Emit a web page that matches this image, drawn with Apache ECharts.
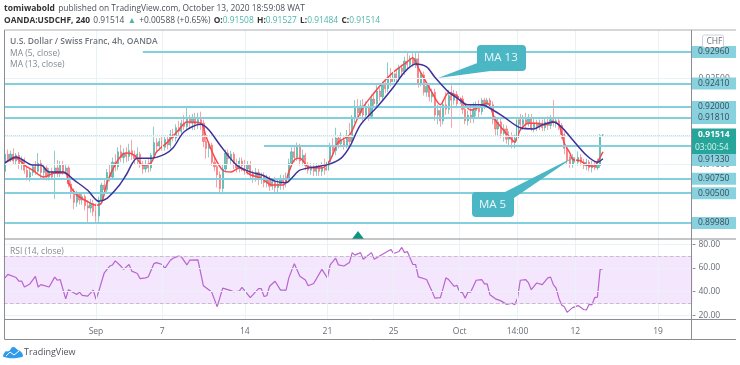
<!DOCTYPE html>
<html><head><meta charset="utf-8">
<style>html,body{margin:0;padding:0;background:#fff}#c{width:740px;height:365px;filter:blur(0.45px)}</style>
<script src="https://cdn.jsdelivr.net/npm/echarts@6/dist/echarts.min.js"></script>
</head><body><div id="c"></div>
<script>
// Prices are in 1/10000 of CHF. Each bar: [open, close, low, high]
const bars=[[9088,9118,9082,9122],[9118,9110,9104,9126],[9110,9118,9104,9124],[9118,9106,9100,9128],[9106,9116,9100,9120],[9116,9100,9092,9122],[9100,9108,9090,9114],[9108,9090,9084,9112],[9090,9078,9072,9096],[9078,9086,9070,9092],
[9086,9096,9080,9100],[9096,9088,9082,9106],[9088,9102,9084,9120],[9102,9086,9076,9108],[9086,9094,9074,9100],[9094,9078,9072,9098],[9078,9088,9072,9094],[9088,9078,9074,9094],[9084,9094,9040,9124],[9094,9084,9078,9108],
[9084,9100,9078,9106],[9100,9088,9082,9106],[9088,9094,9082,9100],[9094,9066,9060,9098],[9066,9050,9040,9072],[9050,9034,9022,9058],[9034,9048,9026,9054],[9048,9038,9030,9052],[9038,9044,9030,9050],[9044,9028,9020,9048],
[9028,9024,9000,9038],[9024,9032,9016,9040],[9032,9018,9010,9038],[9018,9010,9000,9032],[9010,9038,9000,9044],[9038,9064,9034,9068],[9064,9056,9048,9074],[9056,9086,9052,9092],[9086,9078,9070,9100],[9078,9104,9074,9112],
[9104,9096,9088,9118],[9096,9122,9090,9130],[9122,9112,9104,9134],[9112,9120,9102,9128],[9120,9114,9104,9130],[9114,9124,9106,9136],[9124,9116,9108,9143],[9116,9110,9100,9124],[9110,9118,9100,9130],[9118,9100,9094,9122],
[9100,9092,9084,9106],[9092,9100,9086,9108],[9100,9094,9086,9110],[9094,9116,9088,9120],[9116,9138,9110,9166],[9138,9132,9124,9146],[9132,9140,9124,9146],[9140,9130,9124,9148],[9130,9144,9124,9150],[9144,9134,9126,9150],
[9134,9152,9128,9160],[9152,9146,9140,9162],[9146,9164,9140,9170],[9164,9158,9150,9176],[9158,9172,9152,9178],[9172,9166,9160,9186],[9166,9180,9160,9200],[9180,9172,9164,9186],[9172,9182,9160,9188],[9182,9170,9160,9190],
[9170,9178,9162,9190],[9178,9172,9160,9192],[9172,9140,9130,9178],[9140,9128,9110,9148],[9128,9134,9112,9140],[9134,9104,9098,9138],[9104,9096,9088,9112],[9096,9082,9060,9100],[9082,9058,9048,9088],[9058,9092,9048,9100],
[9092,9120,9086,9126],[9120,9110,9100,9126],[9110,9118,9100,9124],[9118,9100,9092,9122],[9100,9094,9086,9110],[9094,9106,9086,9112],[9106,9098,9088,9112],[9098,9092,9082,9108],[9092,9100,9082,9106],[9100,9084,9074,9106],
[9084,9078,9068,9090],[9078,9086,9070,9094],[9086,9074,9064,9092],[9074,9080,9066,9086],[9080,9068,9060,9086],[9068,9074,9060,9082],[9074,9062,9054,9080],[9062,9070,9056,9076],[9070,9060,9050,9078],[9060,9066,9052,9074],
[9066,9074,9056,9082],[9074,9068,9056,9082],[9068,9076,9060,9086],[9076,9102,9072,9110],[9102,9122,9096,9130],[9122,9112,9104,9134],[9112,9130,9106,9138],[9130,9106,9098,9136],[9106,9116,9098,9126],[9116,9098,9090,9120],
[9098,9090,9084,9104],[9090,9096,9082,9102],[9096,9088,9080,9102],[9088,9094,9080,9102],[9094,9088,9080,9100],[9088,9094,9080,9104],[9094,9090,9082,9110],[9090,9104,9086,9112],[9104,9130,9098,9138],[9130,9124,9116,9146],
[9124,9146,9116,9164],[9146,9136,9128,9150],[9136,9142,9130,9156],[9142,9134,9126,9150],[9134,9148,9128,9160],[9148,9140,9130,9172],[9140,9180,9136,9186],[9180,9200,9172,9212],[9200,9190,9180,9214],[9190,9202,9184,9212],
[9202,9186,9176,9214],[9186,9198,9178,9210],[9198,9184,9176,9206],[9184,9214,9180,9222],[9214,9206,9198,9226],[9206,9228,9200,9238],[9228,9218,9210,9234],[9218,9238,9212,9244],[9238,9232,9224,9246],[9232,9250,9226,9278],
[9250,9244,9236,9268],[9244,9258,9238,9264],[9258,9250,9242,9266],[9250,9268,9244,9274],[9268,9262,9252,9274],[9262,9280,9256,9288],[9280,9274,9266,9296],[9274,9284,9268,9290],[9284,9276,9270,9294],[9276,9284,9268,9296],
[9284,9242,9234,9294],[9242,9256,9236,9262],[9256,9226,9220,9262],[9226,9236,9218,9244],[9236,9218,9210,9242],[9218,9226,9208,9232],[9226,9186,9176,9232],[9186,9194,9170,9204],[9194,9176,9166,9202],[9176,9204,9170,9212],
[9204,9196,9186,9226],[9196,9220,9188,9230],[9220,9212,9164,9238],[9212,9222,9204,9230],[9222,9206,9198,9228],[9206,9214,9198,9224],[9214,9196,9188,9220],[9196,9176,9170,9200],[9176,9186,9168,9194],[9186,9180,9172,9204],
[9180,9194,9172,9208],[9194,9200,9184,9210],[9200,9192,9182,9212],[9192,9212,9186,9216],[9212,9204,9196,9216],[9204,9212,9198,9216],[9212,9204,9196,9216],[9204,9178,9170,9210],[9178,9162,9150,9184],[9162,9174,9150,9180],
[9174,9154,9146,9180],[9154,9162,9140,9170],[9162,9144,9136,9168],[9144,9150,9130,9158],[9150,9138,9128,9156],[9138,9146,9128,9152],[9146,9178,9140,9186],[9178,9170,9162,9188],[9170,9178,9160,9186],[9178,9172,9164,9190],
[9172,9180,9166,9188],[9180,9164,9158,9188],[9164,9172,9156,9180],[9172,9166,9158,9178],[9166,9172,9160,9178],[9172,9164,9158,9178],[9164,9174,9158,9182],[9174,9168,9160,9184],[9168,9178,9162,9186],[9178,9172,9166,9212],
[9172,9176,9164,9182],[9176,9168,9160,9180],[9168,9152,9144,9172],[9152,9128,9118,9156],[9128,9108,9100,9132],[9112,9100,9094,9116],[9100,9112,9094,9118],[9112,9104,9096,9120],[9104,9112,9098,9123],[9112,9104,9098,9118],
[9104,9098,9092,9110],[9098,9104,9090,9110],[9104,9094,9088,9108],[9094,9100,9086,9106],[9100,9094,9090,9104],[9094,9100,9090,9110],[9098,9150,9094,9153],[9150.8,9151.4,9148,9153]];

// [bar index, value]
const ma13=[[0,9103],[4,9113],[10,9099],[13,9099],[16,9087],[21,9087],[25,9073],[30,9055],[34,9036],[37,9041],[41,9061],[44,9082],[48,9111],[53,9111],[58,9118],[61,9129],[65,9157],[71,9170],[74,9160],[78,9134],[84,9099],[89,9087],[93,9082],[98,9071],[102,9068],[104,9076],[107,9090],[113,9096],[118,9101],[122,9111],[125,9130],[129,9169],[135,9200],[141,9235],[145,9261],[149,9275],[153,9270],[156,9252],[161,9226],[164,9216],[168,9204],[173,9204],[176,9198],[181,9183],[187,9164],[192,9162],[195,9169],[199,9174],[202,9165],[206,9143],[211,9116],[215,9104],[217,9110]];
const ma5=[[0,9103],[4,9111],[7,9099],[10,9090],[14,9078],[18,9085],[22,9085],[23,9068],[26,9047],[30,9035],[33,9029],[35,9033],[37,9068],[41,9108],[44,9120],[47,9116],[50,9099],[53,9103],[55,9122],[59,9139],[63,9160],[66,9174],[71,9172],[73,9148],[76,9113],[79,9090],[82,9087],[85,9094],[89,9082],[93,9076],[97,9064],[101,9064],[103,9087],[105,9108],[107,9111],[110,9096],[115,9094],[118,9108],[121,9139],[125,9151],[128,9181],[130,9200],[134,9225],[137,9242],[141,9261],[146,9279],[148,9286],[150,9268],[153,9242],[155,9225],[158,9204],[161,9225],[165,9216],[169,9195],[172,9200],[175,9207],[178,9177],[180,9165],[183,9148],[185,9139],[187,9160],[190,9172],[193,9172],[196,9169],[199,9174],[201,9169],[203,9137],[205,9120],[206,9109],[209,9106],[211,9099],[214,9097],[215,9104],[217,9122]];
const rsi=[[0,51.7],[1,54.6],[4,52],[5,49],[6,49],[7,44],[9,46.6],[11,52.9],[12,44],[13,46],[16,44],[18,52.3],[19,49.7],[20,50.3],[22,34],[23,41.7],[26,37.7],[27,39.7],[28,36.9],[30,36.3],[32,41.4],[33,33.7],[34,40.3],[36,56],[38,61.7],[39,62.6],[40,66],[42,61.7],[43,58.9],[45,63],[46,57.4],[48,55.4],[49,51],[51,51.7],[52,52.6],[54,63.7],[55,64.6],[57,63],[58,59.7],[60,66.6],[61,68.3],[63,70],[64,69.4],[66,62.6],[67,66.6],[70,66.9],[72,45],[75,39.7],[77,27.4],[79,43],[82,41],[83,40],[85,40.6],[86,43.7],[89,35],[92,42.6],[93,42.6],[94,36],[95,36.6],[96,44.6],[98,48.9],[100,41.4],[102,41.4],[103,51.7],[105,63.7],[107,53],[109,50],[110,45],[112,47],[113,50.9],[115,58.9],[117,51.7],[118,62.6],[120,68.3],[121,62.6],[123,61.7],[125,64.6],[126,73],[127,70.9],[129,73],[130,67.4],[133,73],[134,67.4],[137,71.7],[140,75.7],[141,72.3],[143,74],[144,77.4],[145,73],[146,74],[148,63],[149,63],[150,52.6],[153,50.3],[155,40.3],[156,34.6],[158,35],[159,43],[160,51.7],[161,50.3],[163,44.6],[164,45.4],[165,39.7],[166,39.4],[167,34.6],[168,39.7],[169,39.7],[171,49.7],[173,50.3],[174,46.6],[175,46.6],[176,37.4],[178,34],[180,32.3],[182,29.4],[184,30.3],[185,29],[186,34.6],[187,49.7],[189,50.3],[190,47.4],[191,41.7],[193,47.4],[195,46],[197,51.7],[198,52.3],[199,46],[200,43],[201,34.6],[202,28.9],[203,27.4],[204,22.6],[206,26.6],[207,27.4],[208,28.3],[210,25],[211,24.6],[212,29.4],[213,28.9],[214,35],[215,35.4],[216,58.9],[217,59.4]];

const tickLabels={33:'Sep',57:'7',87:'14',117:'21',141:'25',165:'Oct',186:'14:00',207:'12',237:'19'};
const categoryCount=250;
const categories=Array.from({length:categoryCount},(_,i)=>tickLabels[i]||'');
const tickIdx=Object.keys(tickLabels).map(Number);

// horizontal levels: [price, first bar index]
const levels=[[9296,50],[9241,0],[9200,0],[9181,0],[9133,94],[9075,0],[9050,0],[8998,0]];
const lastPrice=9151.4;
const priceTicks=[9250,9200,9150,9100,9050,9000];
const rsiTicks=[20,40,60,80];
const font='"Open Sans",sans-serif';
const LV='#82d0de', GRID='#e9f2f6', AXT='#666c75', UP='#26a69a', DN='#f4545a', FR='#8b8d92';
const lineOpts={symbol:'none',silent:true,label:{show:false}};

const chart=echarts.init(document.getElementById('c'),null,{renderer:'canvas'});
const vLines=tickIdx.map(i=>({xAxis:i}));
chart.setOption({
 animation:false,
 grid:[{left:3.7,width:688.75,top:30,height:209},{left:3.7,width:688.75,top:239,height:80}],
 xAxis:[
  {type:'category',gridIndex:0,data:categories,boundaryGap:true,axisLine:{show:false},axisTick:{show:false},axisLabel:{show:false},splitLine:{show:false}},
  {type:'category',gridIndex:1,data:categories,boundaryGap:true,axisLine:{show:false},axisTick:{show:false},splitLine:{show:false},
   axisLabel:{show:true,interval:(i)=>!!tickLabels[i],margin:8,fontFamily:font,fontSize:8.5,color:AXT,hideOverlap:false}}
 ],
 yAxis:[
  {type:'value',gridIndex:0,position:'right',min:8970.1,max:9334.3,axisLine:{show:false},axisTick:{show:false},splitLine:{show:false},
   axisLabel:{customValues:priceTicks,margin:6,padding:[4,0,0,0],fontFamily:font,fontSize:8.5,color:AXT,formatter:v=>(v/10000).toFixed(5)}},
  {type:'value',gridIndex:1,position:'right',min:17,max:84.5,axisLine:{show:false},axisTick:{show:true,customValues:rsiTicks,length:3,lineStyle:{color:FR}},splitLine:{show:false},
   axisLabel:{customValues:rsiTicks,margin:6,fontFamily:font,fontSize:8.5,color:AXT,formatter:v=>v.toFixed(2)}}
 ],
 series:[
  {type:'line',xAxisIndex:0,yAxisIndex:0,data:[],z:1,silent:true,
   markLine:Object.assign({},lineOpts,{animation:false,lineStyle:{color:GRID,width:1,type:'solid'},
     data:vLines.concat(priceTicks.map(v=>({yAxis:v})))})},
  {type:'line',xAxisIndex:1,yAxisIndex:1,data:[],z:1,silent:true,
   markArea:{silent:true,itemStyle:{color:'#f4e6fd'},data:[[{yAxis:30},{yAxis:70}]]},
   markLine:Object.assign({},lineOpts,{animation:false,lineStyle:{color:GRID,width:1,type:'solid'},
     data:vLines.concat(rsiTicks.map(v=>({yAxis:v})))})},
  {type:'line',xAxisIndex:0,yAxisIndex:0,data:[],z:2,silent:true,
   markLine:Object.assign({},lineOpts,{animation:false,lineStyle:{color:LV,width:2,type:'solid'},
     data:levels.map(l=>[{coord:[l[1],l[0]]},{coord:[249,l[0]]}])})},
  {type:'line',xAxisIndex:0,yAxisIndex:0,data:[],z:2,silent:true,
   markLine:Object.assign({},lineOpts,{animation:false,lineStyle:{color:'#b5e0dc',width:1,type:'dotted'},
     data:[[{coord:[0,lastPrice]},{coord:[249,lastPrice]}]]})},
  {type:'candlestick',xAxisIndex:0,yAxisIndex:0,data:bars,barWidth:1.7,z:3,silent:true,
   itemStyle:{color:UP,color0:DN,borderColor:UP,borderColor0:DN,borderWidth:0.8,opacity:0.68}},
  {type:'line',xAxisIndex:0,yAxisIndex:0,data:ma5,smooth:0.3,symbol:'none',z:4,silent:true,lineStyle:{color:'#f9474d',width:1.5}},
  {type:'line',xAxisIndex:0,yAxisIndex:0,data:ma13,smooth:0.3,symbol:'none',z:5,silent:true,lineStyle:{color:'#3e3199',width:1.5}},
  {type:'line',xAxisIndex:1,yAxisIndex:1,data:rsi,symbol:'none',z:4,silent:true,lineStyle:{color:'#b864cf',width:1.2},
   markLine:Object.assign({},lineOpts,{animation:false,lineStyle:{color:'#c9bcd0',width:1,type:'dashed'},data:[{yAxis:70},{yAxis:30}]})}
 ]
});

// overlays
const g=[];
const ln=(x1,y1,x2,y2,c,w)=>g.push({type:'line',silent:true,z:50,shape:{x1,y1,x2,y2},style:{stroke:c,lineWidth:w||1}});
const tx=(x,y,text,o)=>g.push({type:'text',silent:true,z:60,x,y,style:Object.assign({text,font:'8.5px '+font,fill:AXT,textVerticalAlign:'middle'},o||{})});
ln(4.5,30,736,30,'#aeb0b5',1.2); ln(4.5,30,4.5,339.5,FR); ln(4.5,239,736,239,FR,1.2); ln(4.5,319.5,736,319.5,FR); ln(4.5,339.5,736,339.5,FR); ln(691.5,30,691.5,339.5,FR,1);

// price tags
const tagNudge={9133:14.5};
levels.forEach(l=>{
 const y=chart.convertToPixel({yAxisIndex:0},l[0])+(tagNudge[l[0]]||0);
 g.push({type:'rect',silent:true,z:55,shape:{x:692,y:y-6,width:44,height:12},style:{fill:'#88d2e0'}});
 ln(692,y,695,y,'#555',0.8);
 tx(698,y,(l[0]/10000).toFixed(5),{fill:'#3a4a55',font:'8.5px '+font});
});
const ly=chart.convertToPixel({yAxisIndex:0},lastPrice);
g.push({type:'rect',silent:true,z:56,shape:{x:692,y:ly-6.5,width:44,height:12.5},style:{fill:'#26a69a'}});
tx(698,ly-0.3,'0.91514',{fill:'#fff',font:'bold 8.5px '+font});
g.push({type:'rect',silent:true,z:56,shape:{x:692,y:ly+6,width:44,height:13},style:{fill:'#26a69a'}});
tx(695,ly+12.5,'03:00:54',{fill:'#d8f2ee'});
g.push({type:'rect',silent:true,z:56,shape:{x:702.5,y:35,width:21,height:12.5,r:2},style:{fill:'#fff',stroke:'#cfd2d7',lineWidth:1}});
tx(706.5,42,'CHF',{fill:'#6b7078'});

// callouts
const CO='#4bb6c4';
g.push({type:'polygon',silent:true,z:40,shape:{points:[[480,62],[438,78],[498,70]]},style:{fill:CO}});
g.push({type:'rect',silent:true,z:41,shape:{x:477,y:45,width:49,height:26,r:4},style:{fill:CO}});
tx(484,58,'MA 13',{fill:'#eaf8fa',font:'11.5px '+font});
g.push({type:'polygon',silent:true,z:40,shape:{points:[[505,192],[574,157],[514,198]]},style:{fill:CO}});
g.push({type:'rect',silent:true,z:41,shape:{x:472,y:192,width:42,height:25,r:4},style:{fill:CO}});
tx(479,205,'MA 5',{fill:'#eaf8fa',font:'11.5px '+font});

// flag
g.push({type:'polygon',silent:true,z:45,shape:{points:[[352,239],[358,231],[364,239]]},style:{fill:'#0f9484'}});

// titles
tx(10,41.5,'U.S. Dollar / Swiss Franc, 4h, OANDA',{fill:'#6f747b',font:'600 8.5px '+font});
tx(10,53.5,'MA (5, close)',{fill:'#858a91'});
tx(10,65,'MA (13, close)',{fill:'#858a91'});
tx(10,251.5,'RSI (14, close)',{fill:'#858a91'});

// header
g.push({type:'text',silent:true,z:60,x:4,y:8.5,style:{textVerticalAlign:'middle',
 text:'{b|tomiwabold} {n|published on TradingView.com, October 13, 2020 18:59:08 WAT}',
 rich:{b:{font:'bold 8.5px '+font,fill:'#333'},n:{font:'8.4px '+font,fill:'#4a4f57'}}}});
g.push({type:'text',silent:true,z:60,x:4,y:20.5,style:{textVerticalAlign:'middle',
 text:'{b|OANDA:USDCHF, 240} {n|0.91514} {t|▲} {n|+0.00588 (+0.65%)} {b|O:}{t|0.91508} {b|H:}{t|0.91527} {b|L:}{t|0.91484} {b|C:}{t|0.91514}',
 rich:{b:{font:'bold 8.4px '+font,fill:'#333'},n:{font:'8.4px '+font,fill:'#4a4f57'},t:{font:'8.4px '+font,fill:'#4db6ac'}}}});

// logo
g.push({type:'polygon',silent:true,z:60,shape:{smooth:0.5,points:[[4,357],[5,352],[9,351],[13,347],[18,350],[22,353],[22,357]]},style:{fill:'#2f9bea'}});
g.push({type:'polyline',silent:true,z:61,shape:{points:[[6,356],[10,352],[14,355],[19,351]]},style:{stroke:'#fff',lineWidth:1,fill:null}});
tx(24,352,'TradingView',{fill:'#50535e',font:'9px '+font});
chart.setOption({graphic:g});
</script></body></html>
